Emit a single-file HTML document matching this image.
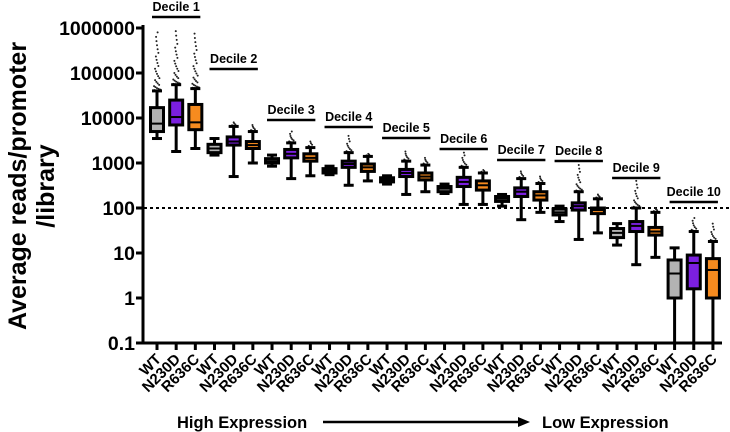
<!DOCTYPE html>
<html><head><meta charset="utf-8"><style>
html,body{margin:0;padding:0;background:#fff;}
svg{display:block;font-family:"Liberation Sans",Arial,sans-serif;font-weight:bold;}
</style></head><body>
<svg id="chart" width="730" height="432" viewBox="0 0 730 432" xmlns="http://www.w3.org/2000/svg"></svg>
<script>
const deciles=["Decile 1","Decile 2","Decile 3","Decile 4","Decile 5","Decile 6","Decile 7","Decile 8","Decile 9","Decile 10"];
const genotypes=["WT","N230D","R636C"];
const yTicks=[1000000,100000,10000,1000,100,10,1,0.1];
const yTickLabels=["1000000","100000","10000","1000","100","10","1","0.1"];
// per box: [min, q1, median, q3, max], order decile-major, genotype-minor
const boxMin=[3500,1800,2100, 1500,500,1000, 850,450,520, 550,320,400, 340,200,230, 210,120,120, 110,55,80, 50,20,28, 15,5.5,8, 0.1,0.1,0.1];
const boxQ1=[5000,7000,5500, 1700,2500,2100, 1000,1300,1100, 600,800,650, 380,500,420, 230,300,250, 140,180,150, 70,90,75, 22,30,25, 1,1.6,1];
const boxMed=[7500,10500,8000, 2100,3000,2500, 1100,1600,1300, 680,950,800, 420,600,500, 270,380,320, 160,230,190, 80,110,90, 28,40,30, 3.5,6,4.2];
const boxQ3=[17000,25000,20000, 2600,3800,3000, 1250,2000,1600, 750,1100,950, 470,720,600, 300,480,400, 180,280,230, 95,130,100, 35,50,37, 7,9,7.5];
const boxMax=[40000,55000,45000, 3500,6500,5000, 1500,2800,2200, 850,1700,1400, 520,1100,900, 340,800,600, 200,450,350, 110,230,160, 45,100,80, 13,30,18];
const outTop=[800000,850000,750000, 3500,8000,7000, 1500,5000,3000, 850,4000,1600, 520,1800,1300, 340,1700,700, 200,650,500, 110,900,200, 45,400,100, 13,60,45];
const lineY=[17,69,120,127,138,149,160,161,178,202];

const svg=document.getElementById('chart');
const NS='http://www.w3.org/2000/svg';
function y(v){return 343-(Math.log10(v)+1)*45;}
function x(i){return 157+i*19.17;}
function mk(tag,attrs,parent){const e=document.createElementNS(NS,tag);for(const k in attrs)e.setAttribute(k,attrs[k]);(parent||svg).appendChild(e);return e;}
const colors=["#b3b3b3","#7b1fe0","#f68b1f"];

let ax=mk('line',{x1:143,y1:25,x2:143,y2:344,stroke:'#000','stroke-width':3});


yTicks.forEach((t,i)=>{
  const tk=mk('line',{x1:136,x2:143,y1:y(t),y2:y(t),stroke:'#000','stroke-width':3});
  
  
  const tx=mk('text',{x:135,y:y(t)+7,'text-anchor':'end','font-size':19.5});
  tx.textContent=yTickLabels[i];
  
  
});
let xa=mk('line',{x1:142,y1:343,x2:722,y2:343,stroke:'#000','stroke-width':3});


let ref=mk('line',{x1:144,y1:y(100),x2:730,y2:y(100),stroke:'#000','stroke-width':2,'stroke-dasharray':'3,3'});



const yt=mk('text',{transform:'translate(26,186) rotate(-90)','text-anchor':'middle','font-size':25});
yt.textContent='Average reads/promoter';


const yt2=mk('text',{transform:'translate(54,186) rotate(-90)','text-anchor':'middle','font-size':25});
yt2.textContent='/library';



for(let i=0;i<30;i++){
  const g=mk('g',{});
  
  
  const cx=x(i),w=13,c=colors[i%3];
  const lo=Math.log10(boxMax[i]),hi=Math.log10(outTop[i]);
  if(hi>lo){const n=Math.round((hi-lo)*18)+6;for(let k=0;k<n;k++){const f=k/(n-1);const v=Math.pow(10,lo+(hi-lo)*Math.pow(f,2.2));const dx=((k*7)%9-4)*(1-f*0.8);mk('circle',{cx:cx+dx,cy:y(v),r:1,fill:'#222'},g);}}
  mk('line',{x1:cx,x2:cx,y1:y(boxMin[i]),y2:y(boxMax[i]),stroke:'#000','stroke-width':3},g);
  mk('line',{x1:cx-5,x2:cx+5,y1:y(boxMax[i]),y2:y(boxMax[i]),stroke:'#000','stroke-width':3},g);
  if(boxMin[i]>0.1)mk('line',{x1:cx-5,x2:cx+5,y1:y(boxMin[i]),y2:y(boxMin[i]),stroke:'#000','stroke-width':3},g);
  mk('rect',{x:cx-w/2,y:y(boxQ3[i]),width:w,height:Math.max(1,y(boxQ1[i])-y(boxQ3[i])),fill:c,stroke:'#000','stroke-width':3},g);
  mk('line',{x1:cx-w/2,x2:cx+w/2,y1:y(boxMed[i]),y2:y(boxMed[i]),stroke:'#000','stroke-width':2},g);
  const tk=mk('line',{x1:cx,x2:cx,y1:343,y2:350,stroke:'#000','stroke-width':3});
  
  
  const lb=mk('text',{transform:`translate(${cx+5},${360}) rotate(-45)`,'text-anchor':'end','font-size':15});
  lb.textContent=genotypes[i%3];
  
  
}
deciles.forEach((d,k)=>{
  const x0=x(k*3)-5,x1=x(k*3+2)+5;
  const l=mk('line',{x1:x0,x2:x1,y1:lineY[k],y2:lineY[k],stroke:'#000','stroke-width':2.5});
  
  
  const t=mk('text',{x:(x0+x1)/2,y:lineY[k]-6,'text-anchor':'middle','font-size':12.5});
  t.textContent=d;
  
  
});
const h=mk('text',{x:177,y:428,'font-size':16.5});h.textContent='High Expression';


const ar=mk('line',{x1:323,x2:520,y1:422,y2:422,stroke:'#000','stroke-width':2.5});


const ah=mk('polygon',{points:'518,417 530,422 518,427',fill:'#000'});


const lw=mk('text',{x:542,y:428,'font-size':16.5});lw.textContent='Low Expression';


</script>
</body></html>
